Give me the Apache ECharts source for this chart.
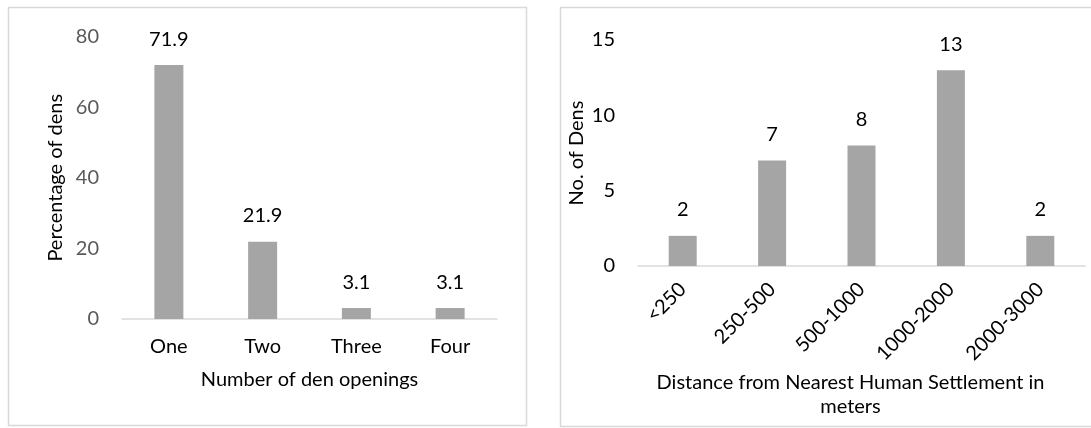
<!DOCTYPE html>
<html>
<head>
<meta charset="utf-8">
<script src="https://cdn.jsdelivr.net/npm/echarts@6/dist/echarts.min.js"></script>
<style>
  html, body { margin: 0; padding: 0; background: #fff; }
  #chart { width: 1091px; height: 428px; }
</style>
</head>
<body>
<div id="chart"></div>
<script>
// Den openings (left panel)
const openingCategories = ['One', 'Two', 'Three', 'Four'];
const openingPercent = [71.9, 21.9, 3.1, 3.1];
const openingTicks = [0, 20, 40, 60, 80];

// Distance to nearest settlement (right panel)
const distanceCategories = ['<250', '250-500', '500-1000', '1000-2000', '2000-3000'];
const distanceDens = [2, 7, 8, 13, 2];
const distanceTicks = [0, 5, 10, 15];

const FONT = 'Lato, "Open Sans", sans-serif';
const BAR = '#a5a5a5';
const AXIS = '#d9d9d9';

const chart = echarts.init(document.getElementById('chart'), null, { renderer: 'canvas' });

chart.setOption({
  backgroundColor: '#fff',
  animation: false,
  textStyle: { fontFamily: FONT },
  graphic: [
    { type: 'rect', shape: { x: 8.5, y: 7.5, width: 518, height: 418 },
      style: { fill: 'none', stroke: AXIS, lineWidth: 1.5 }, silent: true },
    { type: 'rect', shape: { x: 560.5, y: 7.5, width: 540, height: 419 },
      style: { fill: 'none', stroke: AXIS, lineWidth: 1.5 }, silent: true }
  ],
  grid: [
    { left: 122, right: 594, top: 36.5, bottom: 109 },
    { left: 638, right: 6, top: 40, bottom: 162 }
  ],
  xAxis: [
    {
      gridIndex: 0, type: 'category', data: openingCategories,
      axisLine: { lineStyle: { color: AXIS, width: 1.5 } },
      axisTick: { show: false },
      axisLabel: { color: '#000', fontSize: 20, margin: 18, fontFamily: FONT },
      name: 'Number of den openings', nameLocation: 'middle', nameGap: 51,
      nameTextStyle: { color: '#000', fontSize: 20, fontFamily: FONT }
    },
    {
      gridIndex: 1, type: 'category', data: distanceCategories,
      axisLine: { lineStyle: { color: AXIS, width: 1.5 } },
      axisTick: { show: false },
      axisLabel: { color: '#000', fontSize: 20, margin: 20, rotate: 45, interval: 0, fontFamily: FONT },
      name: 'Distance from Nearest Human Settlement in\nmeters', nameLocation: 'middle', nameGap: 103,
      nameTextStyle: { color: '#000', fontSize: 20, lineHeight: 24, fontFamily: FONT, padding: [0, 22, 0, 0] }
    }
  ],
  yAxis: [
    {
      gridIndex: 0, type: 'value',
      min: openingTicks[0], max: openingTicks[openingTicks.length - 1],
      interval: openingTicks[1] - openingTicks[0],
      splitLine: { show: false }, axisLine: { show: false }, axisTick: { show: false },
      axisLabel: { color: '#595959', fontSize: 20, margin: 23, fontFamily: FONT },
      name: 'Percentage of dens', nameLocation: 'middle', nameGap: 56,
      nameTextStyle: { color: '#000', fontSize: 20, fontFamily: FONT }
    },
    {
      gridIndex: 1, type: 'value',
      min: distanceTicks[0], max: distanceTicks[distanceTicks.length - 1],
      interval: distanceTicks[1] - distanceTicks[0],
      splitLine: { show: false }, axisLine: { show: false }, axisTick: { show: false },
      axisLabel: { color: '#000', fontSize: 20, margin: 23, fontFamily: FONT },
      name: 'No. of Dens', nameLocation: 'middle', nameGap: 51,
      nameTextStyle: { color: '#000', fontSize: 20, fontFamily: FONT }
    }
  ],
  series: [
    {
      type: 'bar', xAxisIndex: 0, yAxisIndex: 0, data: openingPercent,
      barWidth: 29, itemStyle: { color: BAR },
      label: { show: true, position: 'top', distance: 16, color: '#000', fontSize: 20, fontFamily: FONT }
    },
    {
      type: 'bar', xAxisIndex: 1, yAxisIndex: 1, data: distanceDens,
      barWidth: 28, itemStyle: { color: BAR },
      label: { show: true, position: 'top', distance: 16, color: '#000', fontSize: 20, fontFamily: FONT }
    }
  ]
});
</script>
</body>
</html>
